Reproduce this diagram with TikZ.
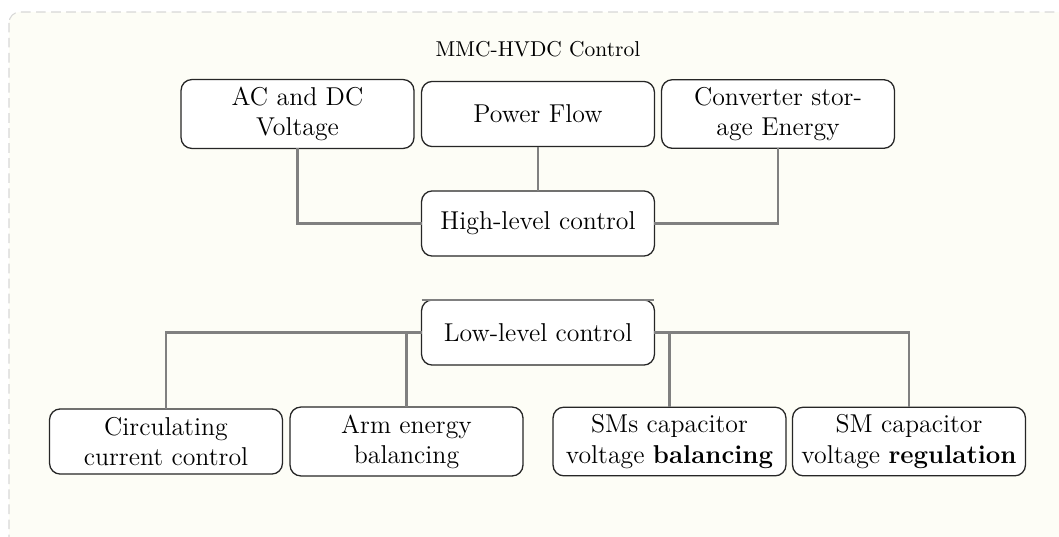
\documentclass[tikz,border=0pt]{standalone}
\definecolor{bgfill}{RGB}{253,253,246}
\definecolor{bgborder}{RGB}{215,215,215}
\definecolor{connc}{RGB}{128,128,128}
\begin{document}
\begin{tikzpicture}[x=0.465pt,y=-0.465pt,
  box/.style={draw=black!85, line width=0.6pt, rounded corners=5pt, fill=white,
    align=center, minimum width=108.3pt, minimum height=30.3pt, inner sep=3.5pt, outer sep=0pt, font=\large},
  conn/.style={draw=connc, line width=1pt},
  bgpanel/.style={fill=bgfill, draw=bgborder, line width=0.5pt, dash pattern=on 4.5pt off 2.5pt, rounded corners=5pt}]
\useasboundingbox (0,0) rectangle (1059,536);
\begin{scope}
\clip (0,0) rectangle (1059,536);
\path[bgpanel] (9,12) rectangle (1080,560);
\end{scope}
\node (title) at (538,49) {MMC-HVDC Control};
\node[box] (ac) at (297.5,114) {AC and DC\\Voltage};
\node[box] (pf) at (538,114) {Power Flow};
\node[box] (conv) at (778,114) {Converter stor-\\age Energy};
\node[box] (high) at (538,223.5) {High-level control};
\node[box] (low) at (538,332.5) {Low-level control};
\node[box] (circ) at (166,441.5) {Circulating\\current control};
\node[box] (arm) at (406.5,441.5) {Arm energy\\balancing};
\node[box] (smsb) at (669.5,441.5) {SMs capacitor\\voltage \textbf{balancing}};
\node[box] (smr) at (909,441.5) {SM capacitor\\voltage \textbf{regulation}};
\draw[conn] (ac.south) |- (high.west);
\draw[conn] (pf.south) -- (high.north);
\draw[conn] (conv.south) |- (high.east);
\draw[conn] (low.west) -| (circ.north);
\draw[conn] (low.west) -| (arm.north);
\draw[conn] (low.east) -| (smsb.north);
\draw[conn] (low.east) -| (smr.north);
\draw[conn] (low.north west) -- (low.north east);
\end{tikzpicture}
\end{document}
